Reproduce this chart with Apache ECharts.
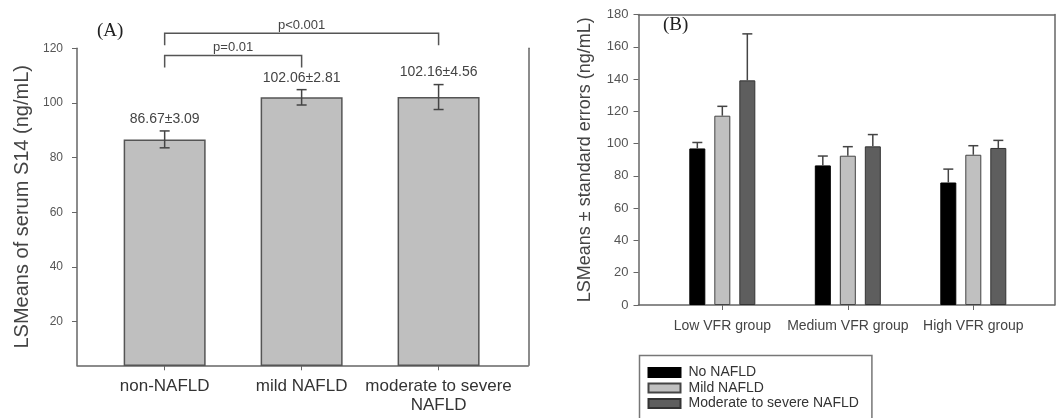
<!DOCTYPE html>
<html>
<head>
<meta charset="utf-8">
<title>Serum S14 LSMeans</title>
<script src="https://cdn.jsdelivr.net/npm/echarts@6/dist/echarts.min.js"></script>
<style>
  html, body { margin: 0; padding: 0; background: #fff; }
  #chart { width: 1057px; height: 418px; }
</style>
</head>
<body>
<div id="chart"></div>
<script>
// panel A
const catsA = ['non-NAFLD', 'mild NAFLD', 'moderate to severe\nNAFLD'];
const meanA = [86.67, 102.06, 102.16];
const seA = [3.09, 2.81, 4.56];
const ticksA = [20, 40, 60, 80, 100, 120];
// significance brackets over panel A
const bracketFrom = [0, 0];
const bracketTo = [1, 2];
const bracketLevel = [117.4, 125.5];
const bracketText = ['p=0.01', 'p<0.001'];

// panel B
const catsB = ['Low VFR group', 'Medium VFR group', 'High VFR group'];
const groupsB = ['No NAFLD', 'Mild NAFLD', 'Moderate to severe NAFLD'];
const noNafld = [97.0, 86.5, 75.9];
const noNafldSe = [3.7, 5.8, 8.3];
const mildNafld = [117.3, 92.5, 93.1];
const mildNafldSe = [5.8, 5.6, 5.6];
const modNafld = [139.2, 98.3, 97.3];
const modNafldSe = [28.8, 7.3, 4.7];
const ticksB = [0, 20, 40, 60, 80, 100, 120, 140, 160, 180];

const FONT = '"Liberation Sans", Arial, sans-serif';
const barWidthB = 16;
const barGapB = 0.5625;
const colorsB = ['#000000', '#c0c0c0', '#5e5e5e'];
const bordersB = ['#000000', '#444444', '#333333'];
const meansB = [noNafld, mildNafld, modNafld];
const sesB = [noNafldSe, mildNafldSe, modNafldSe];

const chart = echarts.init(document.getElementById('chart'));

// plain axis line, never moved onto the other axis' zero
const axisLine = { show: true, onZero: false, lineStyle: { color: '#666', width: 1.5 } };
const frameOnly = { axisLine: axisLine, axisTick: { show: false }, axisLabel: { show: false }, splitLine: { show: false } };

// error bars for panel A (both directions) with the mean±se text on top
const errA = {
  type: 'custom',
  xAxisIndex: 0,
  yAxisIndex: 0,
  z: 5,
  data: meanA.map((m, i) => [i, m, seA[i]]),
  renderItem: (params, api) => {
    const x = api.value(0), m = api.value(1), se = api.value(2);
    const hi = api.coord([x, m + se]);
    const lo = api.coord([x, m - se]);
    const st = { stroke: '#444', lineWidth: 1.5 };
    return {
      type: 'group',
      children: [
        { type: 'line', shape: { x1: hi[0], y1: hi[1], x2: lo[0], y2: lo[1] }, style: st },
        { type: 'line', shape: { x1: hi[0] - 5, y1: hi[1], x2: hi[0] + 5, y2: hi[1] }, style: st },
        { type: 'line', shape: { x1: lo[0] - 5, y1: lo[1], x2: lo[0] + 5, y2: lo[1] }, style: st },
        {
          type: 'text',
          x: hi[0], y: hi[1] - 12,
          style: {
            text: m.toFixed(2) + '±' + se.toFixed(2),
            font: '14px ' + FONT, fill: '#444',
            align: 'center', verticalAlign: 'middle'
          }
        }
      ]
    };
  }
};

// brackets with p-values
const brackets = {
  type: 'custom',
  xAxisIndex: 0,
  yAxisIndex: 0,
  z: 5,
  data: bracketFrom.map((f, i) => [f, bracketTo[i], bracketLevel[i], i]),
  renderItem: (params, api) => {
    const a = api.coord([api.value(0), api.value(2)]);
    const b = api.coord([api.value(1), api.value(2)]);
    return {
      type: 'group',
      children: [
        {
          type: 'polyline',
          shape: { points: [[a[0], a[1] + 12], [a[0], a[1]], [b[0], b[1]], [b[0], b[1] + 12]] },
          style: { stroke: '#555', lineWidth: 1.5, fill: null }
        },
        {
          type: 'text',
          x: (a[0] + b[0]) / 2, y: a[1] - 8,
          style: {
            text: bracketText[api.value(3)],
            font: '13px ' + FONT, fill: '#444',
            align: 'center', verticalAlign: 'middle'
          }
        }
      ]
    };
  }
};

// panel B bars and upward error bars
const barsB = groupsB.map((g, k) => ({
  name: g,
  type: 'bar',
  xAxisIndex: 1,
  yAxisIndex: 2,
  barWidth: barWidthB,
  barGap: (barGapB * 100) + '%',
  data: meansB[k].map((v, i) => [i, v]),
  itemStyle: { color: colorsB[k], borderColor: bordersB[k], borderWidth: 1 }
}));

const errB = {
  type: 'custom',
  xAxisIndex: 1,
  yAxisIndex: 2,
  z: 5,
  data: meansB.flatMap((arr, k) => arr.map((m, i) => [i, m, sesB[k][i], k])),
  renderItem: (params, api) => {
    const off = (api.value(3) - 1) * barWidthB * (1 + barGapB);
    const top = api.coord([api.value(0), api.value(1) + api.value(2)]);
    const base = api.coord([api.value(0), api.value(1)]);
    const x = top[0] + off;
    const st = { stroke: '#444', lineWidth: 1.5 };
    return {
      type: 'group',
      children: [
        { type: 'line', shape: { x1: x, y1: base[1], x2: x, y2: top[1] }, style: st },
        { type: 'line', shape: { x1: x - 5, y1: top[1], x2: x + 5, y2: top[1] }, style: st }
      ]
    };
  }
};

const option = {
  animation: false,
  textStyle: { fontFamily: FONT },
  graphic: [
    { type: 'text', left: 97, top: 22, style: { text: '(A)', font: '19px "Liberation Serif", serif', fill: '#222' } },
    { type: 'text', left: 663, top: 16, style: { text: '(B)', font: '19px "Liberation Serif", serif', fill: '#222' } }
  ],
  grid: [
    { left: 77, top: 48.3, width: 451.3, height: 317 },
    { left: 638.5, top: 14.5, width: 416, height: 290.5 }
  ],
  legend: {
    data: groupsB,
    orient: 'vertical',
    left: 639.5,
    top: 355.5,
    height: 80,
    padding: [10, 13, 12, 8],
    itemWidth: 32,
    itemHeight: 9,
    itemGap: 1.5,
    icon: 'rect',
    selectedMode: false,
    borderColor: '#777',
    borderWidth: 1.5,
    textStyle: { fontSize: 14, lineHeight: 14, color: '#333', fontFamily: FONT, padding: [0, 0, 0, 3] }
  },
  xAxis: [
    {
      type: 'value', gridIndex: 0, min: -0.64, max: 2.655,
      axisLine: axisLine,
      splitLine: { show: false },
      axisTick: { customValues: [0, 1, 2], length: 5, lineStyle: { color: '#666' } },
      axisLabel: {
        customValues: [0, 1, 2],
        formatter: v => catsA[v],
        fontSize: 17, color: '#333', margin: 12, lineHeight: 19
      }
    },
    {
      type: 'value', gridIndex: 1, min: -0.668, max: 2.647,
      axisLine: axisLine,
      splitLine: { show: false },
      axisTick: { customValues: [0, 1, 2], length: 5, lineStyle: { color: '#666' } },
      axisLabel: {
        customValues: [0, 1, 2],
        formatter: v => catsB[v],
        fontSize: 14, color: '#444', margin: 14
      }
    },
    Object.assign({ type: 'value', gridIndex: 1, position: 'top', min: -0.668, max: 2.647 }, frameOnly)
  ],
  yAxis: [
    {
      type: 'value', gridIndex: 0, min: 4, max: 120,
      name: 'LSMeans of serum S14 (ng/mL)',
      nameLocation: 'middle', nameGap: 45,
      nameTextStyle: { fontSize: 20, color: '#444' },
      axisLine: axisLine,
      splitLine: { show: false },
      axisTick: { show: true, customValues: ticksA, length: 5, lineStyle: { color: '#666' } },
      axisLabel: { customValues: ticksA, fontSize: 12, color: '#555', margin: 14 }
    },
    Object.assign({ type: 'value', gridIndex: 0, position: 'right', min: 4, max: 120 }, frameOnly),
    {
      type: 'value', gridIndex: 1, min: 0, max: 180, interval: 20,
      name: 'LSMeans ± standard errors (ng/mL)',
      nameLocation: 'middle', nameGap: 44,
      nameTextStyle: { fontSize: 18, color: '#444' },
      axisLine: axisLine,
      splitLine: { show: false },
      axisTick: { show: true, length: 5, lineStyle: { color: '#666' } },
      axisLabel: { customValues: ticksB, fontSize: 13, color: '#555', margin: 10 }
    },
    Object.assign({ type: 'value', gridIndex: 1, position: 'right', min: 0, max: 180 }, frameOnly)
  ],
  series: [
    {
      name: 'S14',
      type: 'bar',
      xAxisIndex: 0,
      yAxisIndex: 0,
      barWidth: 82,
      data: meanA.map((v, i) => [i, v]),
      itemStyle: { color: '#bfbfbf', borderColor: '#555', borderWidth: 1.5 }
    },
    errA,
    brackets,
    ...barsB,
    errB
  ]
};

chart.setOption(option);
</script>
</body>
</html>
